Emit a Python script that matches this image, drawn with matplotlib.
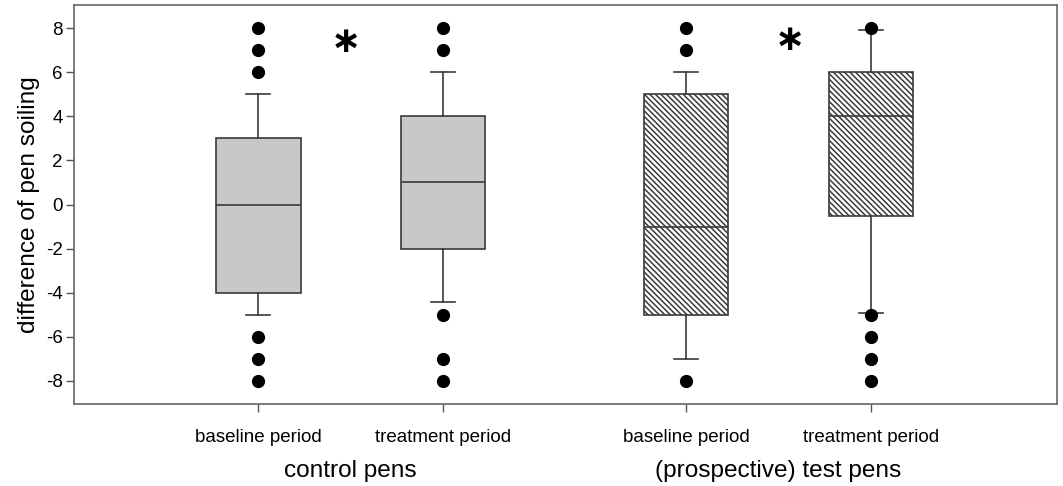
import numpy as np
import matplotlib
matplotlib.use("Agg")
import matplotlib.pyplot as plt

plt.rcParams['font.family'] = ['Liberation Sans', 'DejaVu Sans']
plt.rcParams['axes.unicode_minus'] = False
plt.rcParams['hatch.linewidth'] = 1.1
plt.rcParams['hatch.color'] = '#333333'

# box statistics
tick_labels = ["baseline period", "treatment period", "baseline period", "treatment period"]
group_labels = ["control pens", "(prospective) test pens"]
medians = [0, 1, -1, 4]
q1s = [-4, -2, -5, -0.5]
q3s = [3, 4, 5, 6]
whis_lo = [-5, -4.4, -7, -4.9]
whis_hi = [5, 6, 6, 7.9]
outliers = [
    [6, 7, 8, -6, -7, -8],
    [7, 8, -5, -7, -8],
    [7, 8, -8],
    [8, -5, -6, -7, -8],
]
hatched = [False, False, True, True]
star_x = [1.473, 3.88]
star_y = [7.375, 7.44]

positions = [1, 2, 3.32, 4.32]

stats = []
for i in range(4):
    stats.append({
        "med": medians[i], "q1": q1s[i], "q3": q3s[i],
        "whislo": whis_lo[i], "whishi": whis_hi[i], "fliers": outliers[i],
    })

fig = plt.figure(figsize=(10.63, 4.86), dpi=100)
ax = fig.add_axes([0.0696, 0.1687, 0.9248, 0.821])

edge = '#3a3a3a'
bp = ax.bxp(stats, positions=positions, widths=0.457, patch_artist=True,
            showfliers=True,
            boxprops=dict(edgecolor=edge, linewidth=1.2),
            medianprops=dict(color=edge, linewidth=1.2),
            whiskerprops=dict(color=edge, linewidth=1.2),
            capprops=dict(color=edge, linewidth=1.2),
            capwidths=0.13,
            flierprops=dict(marker='o', markerfacecolor='black', markeredgecolor='black',
                            markersize=8.5, linestyle='none'))

for box, h in zip(bp['boxes'], hatched):
    if h:
        box.set_facecolor('white')
        box.set_hatch('\\\\\\\\\\\\')
    else:
        box.set_facecolor('#c8c8c8')

for x, y in zip(star_x, star_y):
    ax.text(x, y, '\u2217', fontsize=26, fontweight='bold', family='DejaVu Sans',
            ha='center', va='center')

ax.set_xlim(0, 5.33)
ax.set_ylim(-9.05, 9.05)
ax.set_yticks(np.arange(-8, 9, 2))
ax.set_xticks(positions)
ax.set_xticklabels(tick_labels)
ax.tick_params(axis='both', labelsize=13.5, length=6, width=1, color='#555555',
               direction='out')
ax.tick_params(axis='y', pad=2)
ax.tick_params(axis='x', pad=12)
for sp in ax.spines.values():
    sp.set_color('#666666')
    sp.set_linewidth(1.2)

ax.set_ylabel('difference of pen soiling', fontsize=17.6, labelpad=4)

for j, lab in enumerate(group_labels):
    cx = (positions[2 * j] + positions[2 * j + 1]) / 2
    ax.text(cx, -0.183, lab, transform=ax.get_xaxis_transform(), fontsize=17.6,
            ha='center', va='baseline')

fig.savefig('out.png', dpi=100)
